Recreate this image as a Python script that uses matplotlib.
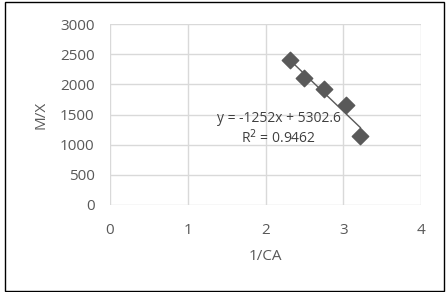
import matplotlib
matplotlib.use("Agg")
import matplotlib.pyplot as plt
import numpy as np
from matplotlib.patches import Rectangle

x_vals = [2.31, 2.50, 2.75, 3.04, 3.22]
y_vals = [2400, 2100, 1930, 1650, 1150]
x_ticks = [0, 1, 2, 3, 4]
y_ticks = [0, 500, 1000, 1500, 2000, 2500, 3000]
eq_text = "y = -1252x + 5302.6"
r2_text = "R$^2$ = 0.9462"

plt.rcParams['font.family'] = ['Open Sans', 'DejaVu Sans']
tc = '#595959'

fig = plt.figure(figsize=(4.47, 2.92), dpi=100)
ax = fig.add_axes([110/447, 1-205/292, (421-110)/447, (205-24)/292])

ax.set_xlim(0, 4)
ax.set_ylim(0, 3000)
ax.set_xticks(x_ticks)
ax.set_yticks(y_ticks)
ax.grid(True, color='#d9d9d9', linewidth=1)
ax.set_axisbelow(True)
for s in ax.spines.values():
    s.set_visible(False)
ax.tick_params(axis='x', length=0, labelsize=11, labelcolor=tc, pad=13)
ax.tick_params(axis='y', length=0, labelsize=11, labelcolor=tc, pad=11)

ax.scatter(x_vals, y_vals, marker='D', s=70, color='#595959', zorder=3)
m, b = np.polyfit(x_vals, y_vals, 1)
xs = np.array([min(x_vals), max(x_vals)])
ax.plot(xs, m*xs + b, color='#595959', linewidth=1, zorder=2)

ax.text(2.17, 1440, eq_text, ha='center', va='center', fontsize=10, color='#404040', zorder=4)
ax.text(2.17, 1120, r2_text, ha='center', va='center', fontsize=10, color='#404040', zorder=4)

ax.set_xlabel('1/CA', fontsize=11, color=tc, labelpad=8)
ax.set_ylabel('M/X', fontsize=11, color=tc, labelpad=8)

fig.patches.append(Rectangle((5/447, 1/292), 439/447, 289/292, transform=fig.transFigure,
                             fill=False, edgecolor='#000000', linewidth=1))

fig.savefig('out.png', dpi=100)
